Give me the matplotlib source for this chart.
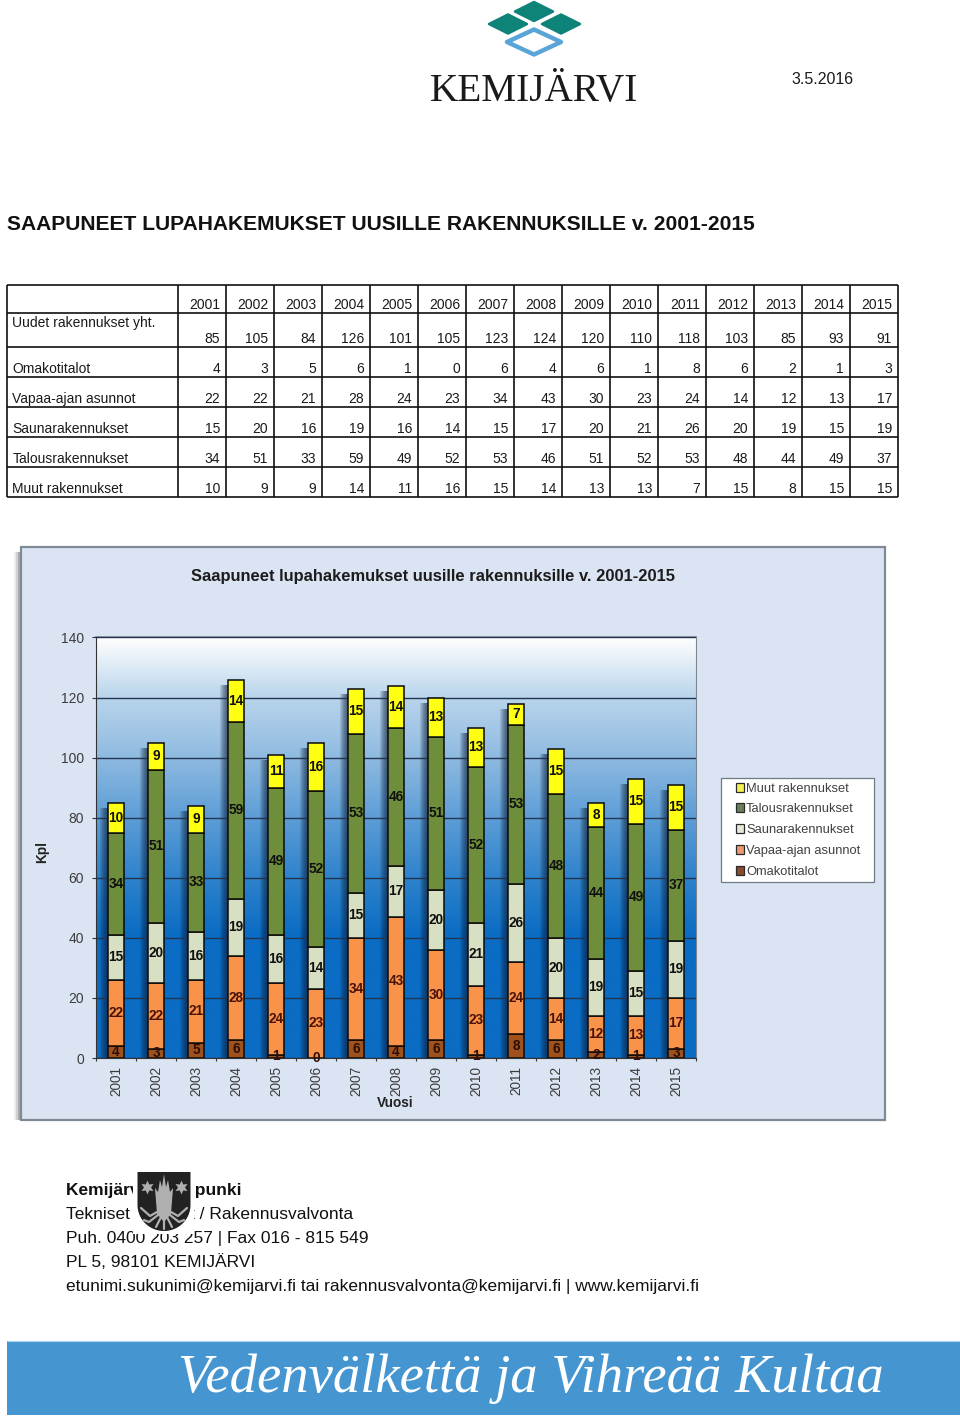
import numpy as np
import matplotlib
matplotlib.use('Agg')
from matplotlib import pyplot as plt
from matplotlib.colors import LinearSegmentedColormap
from matplotlib.patches import Polygon, Rectangle, Patch

plt.rcParams['font.family'] = ['Liberation Sans', 'DejaVu Sans']

years = ['2001', '2002', '2003', '2004', '2005', '2006', '2007', '2008', '2009', '2010', '2011', '2012', '2013', '2014', '2015']
totals = [85, 105, 84, 126, 101, 105, 123, 124, 120, 110, 118, 103, 85, 93, 91]
omakoti = [4, 3, 5, 6, 1, 0, 6, 4, 6, 1, 8, 6, 2, 1, 3]
vapaa = [22, 22, 21, 28, 24, 23, 34, 43, 30, 23, 24, 14, 12, 13, 17]
sauna = [15, 20, 16, 19, 16, 14, 15, 17, 20, 21, 26, 20, 19, 15, 19]
talous = [34, 51, 33, 59, 49, 52, 53, 46, 51, 52, 53, 48, 44, 49, 37]
muut = [10, 9, 9, 14, 11, 16, 15, 14, 13, 13, 7, 15, 8, 15, 15]

names = ['Omakotitalot', 'Vapaa-ajan asunnot', 'Saunarakennukset', 'Talousrakennukset', 'Muut rakennukset']
series = [omakoti, vapaa, sauna, talous, muut]
bar_colors = ['#A0521C', '#F9934A', '#D8E0C4', '#6F8E3C', '#FFFF14']
label_colors = ['#2e0e06', '#4a1208', '#101010', '#101010', '#101010']
legend_colors = ['#8A4A2E', '#EC9A6E', '#E2E9D6', '#6B7F5F', '#F4F250']

W, H = 960, 1417
fig = plt.figure(figsize=(W / 100, H / 100), dpi=100, facecolor='white')

# everything outside the plot area is placed in pixels
doc = fig.add_axes([0, 0, 1, 1], zorder=0)
doc.set_xlim(0, W)
doc.set_ylim(H, 0)
doc.axis('off')

# logo
def diamond(cx, cy, hw, hh, **kw):
    doc.add_patch(Polygon([(cx, cy - hh), (cx + hw, cy), (cx, cy + hh), (cx - hw, cy)], closed=True, **kw))

for cx, cy in [(534, 11.5), (508, 24), (561, 24)]:
    diamond(cx, cy, 19, 9.5, fc='#0E8378', ec='#0E8378', lw=1.8, joinstyle='round')
diamond(534, 42, 27, 12.5, fc='none', ec='#5AA5D8', lw=3.2, joinstyle='round')
doc.text(534, 101, 'KEMIJÄRVI', family='Liberation Serif', fontsize=28.3, ha='center', va='baseline', color='#1a1a1a')
doc.text(823, 79, '3.5.2016', fontsize=11.5, ha='center', va='center', color='#1a1a1a')
doc.text(7, 225, 'SAAPUNEET LUPAHAKEMUKSET UUSILLE RAKENNUKSILLE v. 2001-2015', fontsize=15.1, weight='bold', va='center', color='#111111')

# table
col_x = [7] + [178 + 48 * i for i in range(16)]
row_y = [284.5, 313, 347, 377, 407, 437, 467, 497]
doc.vlines(col_x, row_y[0], row_y[-1], color='#111111', lw=1.2)
doc.hlines(row_y, col_x[0], col_x[-1], color='#111111', lw=1.2)
table_fs = 10
rows = [years, totals] + series
baselines = [309, 343, 373, 403, 433, 463, 493]
for row, base in zip(rows, baselines):
    for i, val in enumerate(row):
        doc.text(col_x[i + 2] - 6, base, str(val), fontsize=table_fs, ha='right', va='baseline', color='#1a1a1a')
doc.text(12.5, 327, 'Uudet rakennukset yht.', fontsize=table_fs, va='baseline', color='#1a1a1a')
for name, base in zip(names, baselines[2:]):
    doc.text(12.5, base, name, fontsize=table_fs, va='baseline', color='#1a1a1a')

# chart panel with soft shadow on the left
for off, a in [(6, 0.10), (4, 0.18), (2, 0.30)]:
    doc.add_patch(Rectangle((20 - off, 552), off + 2, 568, fc='#555555', ec='none', alpha=a))
doc.add_patch(Rectangle((20.5, 547), 864, 573, fc='#DBE4F2', ec='#7F8A94', lw=1.6))
doc.text(433, 577, 'Saapuneet lupahakemukset uusille rakennuksille v. 2001-2015', fontsize=11.85, weight='bold', ha='center', va='center', color='#1c1c1c')
doc.text(42, 852, 'Kpl', fontsize=9.8, weight='bold', rotation=90, ha='center', va='center', color='#222222')
doc.text(395, 1103, 'Vuosi', fontsize=9.8, weight='bold', ha='center', va='center', color='#222222')

# the bars
ax = fig.add_axes([96 / W, (H - 1058) / H, 600 / W, (1058 - 637.5) / H], zorder=1)
x = np.arange(len(years))
grad = LinearSegmentedColormap.from_list('bg', [(0, '#0A6CC4'), (0.29, '#0A6CC4'), (0.43, '#2F83CC'), (0.57, '#5C9DD6'),
                                                (0.71, '#8DB9E0'), (0.86, '#BAD5EC'), (1, '#FFFFFF')])
ax.imshow(np.linspace(1, 0, 256).reshape(-1, 1), cmap=grad, aspect='auto', extent=(-0.5, 14.5, 0, 140), zorder=0, vmin=0, vmax=1)
ax.set_xlim(-0.5, 14.5)
ax.set_ylim(0, 140)
ax.set_yticks(range(0, 141, 20))
ax.grid(axis='y', color='#22344F', lw=1.0, zorder=1)
ax.set_axisbelow(False)
for gl in ax.get_ygridlines():
    gl.set_zorder(1)

width = 0.41
# soft shadow left of the columns
for off in [8, 7, 6, 5, 4, 3, 2]:
    ax.bar(x - off / 40, np.array(totals) - 1.7, width, color='#0B1A30', alpha=0.11, lw=0, zorder=2)

bottom = np.zeros(len(years))
for vals, name, c, lc in zip(series, names, bar_colors, label_colors):
    bars = ax.bar(x, vals, width, bottom=bottom, color=c, edgecolor='#0A0A0A', lw=1.1, label=name, zorder=3)
    ax.bar_label(bars, label_type='center', fontsize=9.8, weight='bold', color=lc, zorder=4)
    bottom += np.array(vals)

ax.set_xticks(np.arange(-0.5, 15))
ax.set_xticklabels([])
ax.set_xticks(x, minor=True)
ax.set_xticklabels(years, minor=True, rotation=90, fontsize=9.8, color='#3c3c3c')
ax.tick_params(axis='x', which='major', length=2.5, width=0.8, color='#333333')
ax.tick_params(axis='x', which='minor', length=0, pad=6)
ax.tick_params(axis='y', length=3, width=0.8, color='#333333', labelsize=10, labelcolor='#3c3c3c', pad=5.5)
for side in ['left', 'bottom']:
    ax.spines[side].set_color('#333333')
for side in ['top', 'right']:
    ax.spines[side].set_color('#808890')
ax.spines['top'].set_linewidth(1.3)

# legend, frame drawn apart so the inset can follow the picture
doc.add_patch(Rectangle((721, 778), 153, 104, fc='white', ec='#6E7A86', lw=0.9))
handles = [Patch(fc=c, ec='#2a2a2a', lw=0.9) for c in legend_colors][::-1]
fig.legend(handles, names[::-1], loc='upper left', bbox_to_anchor=(735.5 / W, 1 - 782.5 / H), frameon=False, borderpad=0, borderaxespad=0,
           fontsize=9.3, labelcolor='#404040', handlelength=0.62, handleheight=0.7, handletextpad=0.2, labelspacing=0.68)

# footer
lines = ['Tekniset palvelut / Rakennusvalvonta', 'Puh. 0400 203 257 | Fax 016 - 815 549', 'PL 5, 98101 KEMIJÄRVI',
         'etunimi.sukunimi@kemijarvi.fi tai rakennusvalvonta@kemijarvi.fi | www.kemijarvi.fi']
doc.text(65.5, 1190, 'Kemijärven kaupunki', fontsize=12.55, weight='bold', va='center', color='#111111')
for i, line in enumerate(lines):
    doc.text(65.5, 1214 + 24 * i, line, fontsize=12.55, va='center', color='#111111')

# crest on a white box, covering part of the text
doc.add_patch(Rectangle((133, 1168), 61, 66, fc='white', ec='none', zorder=4))
t = np.linspace(0, np.pi, 40)
shield = [(137.5, 1172), (190.5, 1172), (190.5, 1205)] + [(164 + 26.5 * np.cos(a), 1205 + 26 * np.sin(a)) for a in t] + [(137.5, 1205)]
doc.add_patch(Polygon(shield, closed=True, fc='#222222', ec='none', zorder=5))
doc.add_patch(Polygon([(157, 1214), (155, 1188), (158, 1192), (160, 1180), (162, 1187), (164, 1174), (166, 1187), (168, 1180), (170, 1192),
                       (173, 1188), (171, 1214), (164, 1222)], closed=True, fc='#B0B0B0', ec='none', zorder=6))
for pts in [[(157, 1212), (150, 1216), (141, 1208)], [(158, 1215), (149, 1222), (144, 1220)], [(161, 1217), (156, 1227)],
            [(171, 1212), (178, 1216), (187, 1208)], [(170, 1215), (179, 1222), (184, 1220)], [(167, 1217), (172, 1227)], [(164, 1218), (164, 1229)]]:
    p = np.array(pts)
    doc.plot(p[:, 0], p[:, 1], color='#B0B0B0', lw=1.6, solid_capstyle='round', zorder=6)
doc.plot([147, 181], [1187, 1187], ls='none', marker=(6, 1, 0), ms=10, color='#B0B0B0', mew=0, zorder=6)

# banner
doc.add_patch(Rectangle((7, 1341), 953, 74, fc='#4596D0', ec='none'))
doc.hlines(1341, 7, 960, color='#A9D0EA', lw=0.8)
doc.text(531, 1379, 'Vedenvälkettä ja Vihreää Kultaa', family='Liberation Serif', style='italic', fontsize=39.3, ha='center', va='center', color='white')

fig.savefig('out.png', dpi=100, facecolor='white')
